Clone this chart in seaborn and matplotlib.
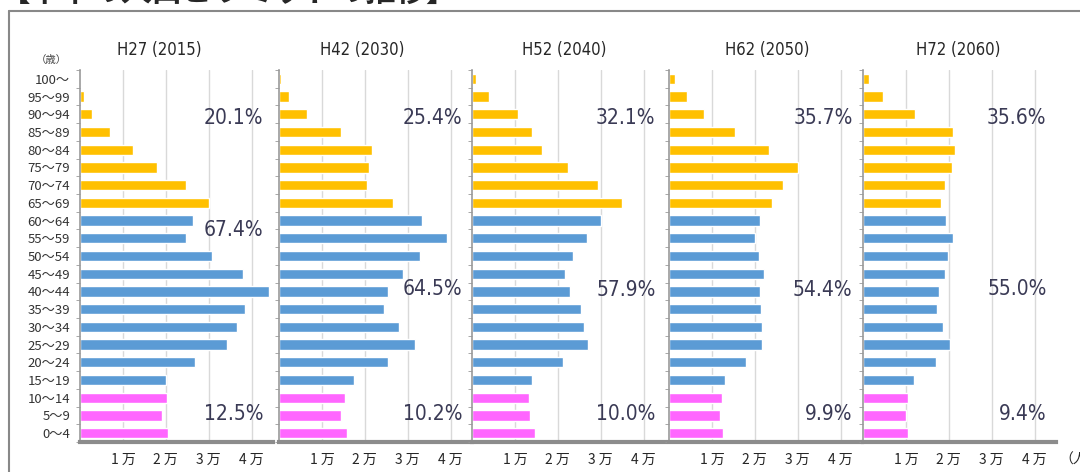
import pandas as pd
import matplotlib.pyplot as plt
import seaborn as sns
from matplotlib.lines import Line2D
from matplotlib.ticker import FixedLocator

# data (people), top row = 100～, bottom row = 0～4
ages = ['100～', '95～99', '90～94', '85～89', '80～84', '75～79', '70～74', '65～69',
        '60～64', '55～59', '50～54', '45～49', '40～44', '35～39', '30～34', '25～29',
        '20～24', '15～19', '10～14', '5～9', '0～4']
groups = ['old'] * 8 + ['work'] * 10 + ['young'] * 3
years = ['H27 (2015)', 'H42 (2030)', 'H52 (2040)', 'H62 (2050)', 'H72 (2060)']

pop_2015 = [100, 1000, 2900, 7000, 12300, 17900, 24800, 30000, 26300, 24800, 30700,
            38000, 44000, 38500, 36700, 34300, 26800, 20100, 20200, 19200, 20500]
pop_2030 = [500, 2300, 6600, 14500, 21600, 20900, 20600, 26600, 33400, 39200, 32900,
            28800, 25400, 24500, 28000, 31700, 25500, 17600, 15500, 14500, 15800]
pop_2040 = [900, 4000, 10700, 14000, 16300, 22400, 29400, 35000, 30000, 26700, 23500,
            21600, 22900, 25300, 26200, 27000, 21200, 14100, 13200, 13500, 14800]
pop_2050 = [1500, 4100, 8200, 15400, 23400, 30100, 26500, 23900, 21300, 20000, 21100,
            22200, 21300, 21400, 21600, 21600, 18000, 13000, 12300, 12000, 12500]
pop_2060 = [1400, 4700, 12200, 20900, 21400, 20700, 19100, 18100, 19400, 20900, 19800,
            19100, 17700, 17300, 18600, 20200, 17100, 11800, 10600, 10100, 10600]
pops = [pop_2015, pop_2030, pop_2040, pop_2050, pop_2060]

pct_old = [20.1, 25.4, 32.1, 35.7, 35.6]
pct_work = [67.4, 64.5, 57.9, 54.4, 55.0]
pct_young = [12.5, 10.2, 10.0, 9.9, 9.4]

xticks = [10000, 20000, 30000, 40000]
xticklabels = ['1 万', '2 万', '3 万', '4 万']

sns.set_style('white')
plt.rcParams['font.family'] = ['Noto Sans CJK JP', 'DejaVu Sans']

palette = {'old': '#FFC000', 'work': '#5B9BD5', 'young': '#FF66FF'}
W, H = 1080, 472
lefts = [80, 279, 472, 669, 863]
title_x = [18600, 19400, 21600, 22800, 22300]
work_y = [8.55, 11.85, 11.9, 11.9, 11.85]

fig = plt.figure(figsize=(10.8, 4.72), dpi=100)

for i in range(5):
    ax = fig.add_axes([lefts[i] / W, 30 / H, 193 / W, 372 / H])
    df = pd.DataFrame({'age': ages, 'pop': pops[i], 'grp': groups})
    sns.barplot(data=df, x='pop', y='age', hue='grp', palette=palette, order=ages,
                dodge=False, width=0.58, legend=False, saturation=1, ax=ax)
    ax.set_xlim(0, 45000)
    ax.set_ylim(20.5, -0.5)
    ax.set_xlabel('')
    ax.set_ylabel('')

    ax.set_xticks(xticks)
    ax.set_xticklabels(xticklabels, fontsize=10)
    ax.grid(axis='x', color='#d9d9d9', lw=1)
    ax.set_axisbelow(True)
    ax.tick_params(axis='x', length=3, color='#aaaaaa', pad=5)

    ax.set_yticks(range(len(ages)))
    if i == 0:
        ax.set_yticklabels(ages, fontsize=9.5, color='#333333')
    else:
        ax.set_yticklabels([])
    ax.tick_params(axis='y', which='major', length=0, pad=7)
    ax.yaxis.set_minor_locator(FixedLocator([k + 0.5 for k in range(-1, 21)]))
    ax.tick_params(axis='y', which='minor', length=3, color='#999999', left=True)

    for s in ['top', 'right']:
        ax.spines[s].set_visible(False)
    ax.spines['left'].set_color('#999999')
    ax.spines['left'].set_linewidth(1.2)
    ax.spines['bottom'].set_color('#8c8c8c')
    ax.spines['bottom'].set_linewidth(3)

    ax.text(title_x[i], -1.63, years[i], ha='center', va='center', fontsize=12,
            family=['DejaVu Sans'], fontstretch='condensed', clip_on=False)

    for val, yy in zip([pct_old[i], pct_work[i], pct_young[i]], [2.2, work_y[i], 18.9]):
        ax.text(42800, yy, f'{val:.1f}%', ha='right', va='center', fontsize=15,
                color='#3a3a55', family=['DejaVu Sans'], fontstretch='condensed')

    if i == 0:
        ax.text(-0.07, -1.05, '（歳）', transform=ax.get_yaxis_transform(),
                ha='right', va='center', fontsize=7.5, color='#444444', clip_on=False)

# outer frame (left and top edges only are visible)
fig.add_artist(Line2D([9 / W, 9 / W], [0, 1 - 11 / H], color='#888888', lw=1.5))
fig.add_artist(Line2D([9 / W, 1], [1 - 11 / H, 1 - 11 / H], color='#888888', lw=1.5))

fig.text(0, 1 - 8 / H, '【本市の人口ピラミッドの推移】', ha='left', va='bottom',
         fontsize=22, fontweight='bold')
fig.text(1059 / W, 1 - 460 / H, '（人）', ha='left', va='center', fontsize=10)

plt.savefig('out.png', dpi=100)
